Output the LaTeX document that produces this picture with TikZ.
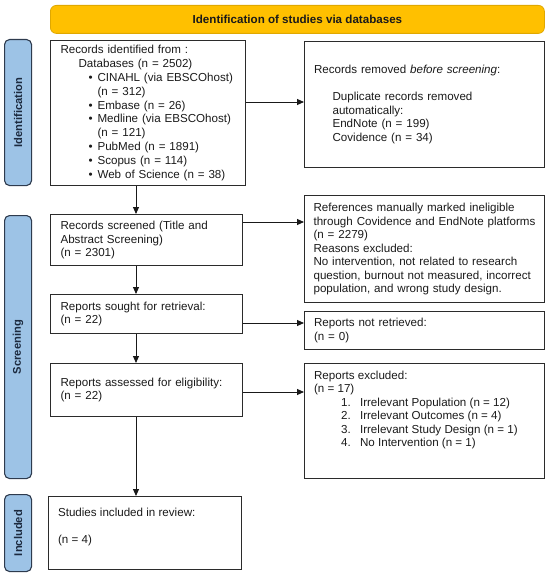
\documentclass[tikz,border=0pt]{standalone}
\usepackage{fontspec}
\setmainfont{Liberation Sans}
\usetikzlibrary{arrows.meta}
\definecolor{tabfill}{HTML}{9DC3E6}
\definecolor{tabline}{HTML}{2E3B4E}
\definecolor{tabtext}{HTML}{1C2A3F}
\definecolor{bannerfill}{HTML}{FFC000}
\definecolor{bannerline}{HTML}{E0A800}
\definecolor{boxline}{HTML}{2B2B2B}
\definecolor{txt}{HTML}{1A1A1A}
\begin{document}
\begin{tikzpicture}[x=1pt,y=-1pt,
  font=\fontsize{11.6}{13.5}\selectfont,
  box/.style={draw=boxline,line width=1.1pt,rectangle,inner sep=0pt,anchor=north west,align=left,text=txt},
  tab/.style={draw=tabline,fill=tabfill,line width=1.1pt,rounded corners=5pt,inner sep=0pt,anchor=north west,minimum width=27pt},
  tablabel/.style={rotate=90,font=\fontsize{11.2}{13}\selectfont\bfseries,text=tabtext,inner sep=0pt},
  arr/.style={-{Triangle[length=7pt,width=6pt]},line width=0.9pt,draw=black!90}]
\useasboundingbox (0,0) rectangle (550,575);

% banner
\node[draw=bannerline,fill=bannerfill,line width=0.8pt,rounded corners=6pt,anchor=north west,
  minimum width=494pt,minimum height=28pt,inner sep=0pt,
  font=\fontsize{11.6}{13.5}\selectfont\bfseries,text=txt] (banner) at (50,5) {Identification of studies via databases};

% side tabs
\node[tab,minimum height=146pt] (tabid) at (4,39) {};
\node[tablabel] (tabidl) at (tabid.center) {Identification};
\node[tab,minimum height=263pt] (tabsc) at (4,215) {};
\node[tablabel] (tabscl) at (tabsc.center) {Screening};
\node[tab,minimum height=77pt] (tabin) at (4,494) {};
\node[tablabel] (tabinl) at (tabin.center) {Included};

% boxes
\node[box,minimum width=195pt,minimum height=145pt,text width=175pt,
  font=\fontsize{11.6}{13.8}\selectfont] (ident) at (50,40)
{Records identified from :\\
\hspace*{18pt}Databases (n = 2502)\\
\hspace*{28pt}\makebox[9pt][l]{•}CINAHL (via EBSCOhost)\\
\hspace*{37pt}(n = 312)\\
\hspace*{28pt}\makebox[9pt][l]{•}Embase (n = 26)\\
\hspace*{28pt}\makebox[9pt][l]{•}Medline (via EBSCOhost)\\
\hspace*{37pt}(n = 121)\\
\hspace*{28pt}\makebox[9pt][l]{•}PubMed (n = 1891)\\
\hspace*{28pt}\makebox[9pt][l]{•}Scopus (n = 114)\\
\hspace*{28pt}\makebox[9pt][l]{•}Web of Science (n = 38)};

\node[box,minimum width=240pt,minimum height=126pt,text width=221pt] (removed) at (304,41)
{Records removed \textit{before screening}:\\[13.5pt]
\hspace*{18.5pt}Duplicate records removed\\
\hspace*{18.5pt}automatically:\\
\hspace*{18.5pt}EndNote (n = 199)\\
\hspace*{18.5pt}Covidence (n = 34)};

\node[box,minimum width=192pt,minimum height=51pt,text width=172pt] (screened) at (50,214)
{Records screened (Title and\\Abstract Screening)\\(n = 2301)};

\node[box,minimum width=240pt,minimum height=107pt,text width=222pt] (refs) at (304,195)
{References manually marked ineligible\\
through Covidence and EndNote platforms\\
(n = 2279)\\
Reasons excluded:\\
No intervention, not related to research\\
question, burnout not measured, incorrect\\
population, and wrong study design.};

\node[box,minimum width=192pt,minimum height=39pt,text width=172pt] (sought) at (50,294)
{Reports sought for retrieval:\\(n = 22)};

\node[box,minimum width=240pt,minimum height=38pt,text width=221pt] (notret) at (304,311)
{Reports not retrieved:\\(n = 0)};

\node[box,minimum width=192pt,minimum height=53pt,text width=172pt] (assessed) at (50,363)
{Reports assessed for eligibility:\\(n = 22)};

\node[box,minimum width=240pt] (excluded) at (304,363)
{\parbox[c][115pt][t]{221pt}{\rule{0pt}{15.5pt}Reports excluded:\\
(n = 17)\\
\hspace*{27pt}\makebox[19pt][l]{1.}Irrelevant Population (n = 12)\\
\hspace*{27pt}\makebox[19pt][l]{2.}Irrelevant Outcomes (n = 4)\\
\hspace*{27pt}\makebox[19pt][l]{3.}Irrelevant Study Design (n = 1)\\
\hspace*{27pt}\makebox[19pt][l]{4.}No Intervention (n = 1)}};

\node[box,minimum width=193pt] (studies) at (48,496)
{\parbox[c][73pt][t]{174pt}{\rule{0pt}{19.5pt}Studies included in review:\\[13.5pt]
(n = 4)}};

% connectors
\coordinate (spine) at (136,0);
\coordinate (y1) at (0,102);
\coordinate (y2) at (0,222);
\coordinate (y3) at (0,323);
\coordinate (y4) at (0,392);
\draw[arr] (ident.south -| spine) -- (screened.north -| spine);
\draw[arr] (screened.south -| spine) -- (sought.north -| spine);
\draw[arr] (sought.south -| spine) -- (assessed.north -| spine);
\draw[arr] (assessed.south -| spine) -- (studies.north -| spine);
\draw[arr] (ident.east |- y1) -- (removed.west |- y1);
\draw[arr] (screened.east |- y2) -- (refs.west |- y2);
\draw[arr] (sought.east |- y3) -- (notret.west |- y3);
\draw[arr] (assessed.east |- y4) -- (excluded.west |- y4);
\end{tikzpicture}
\end{document}
